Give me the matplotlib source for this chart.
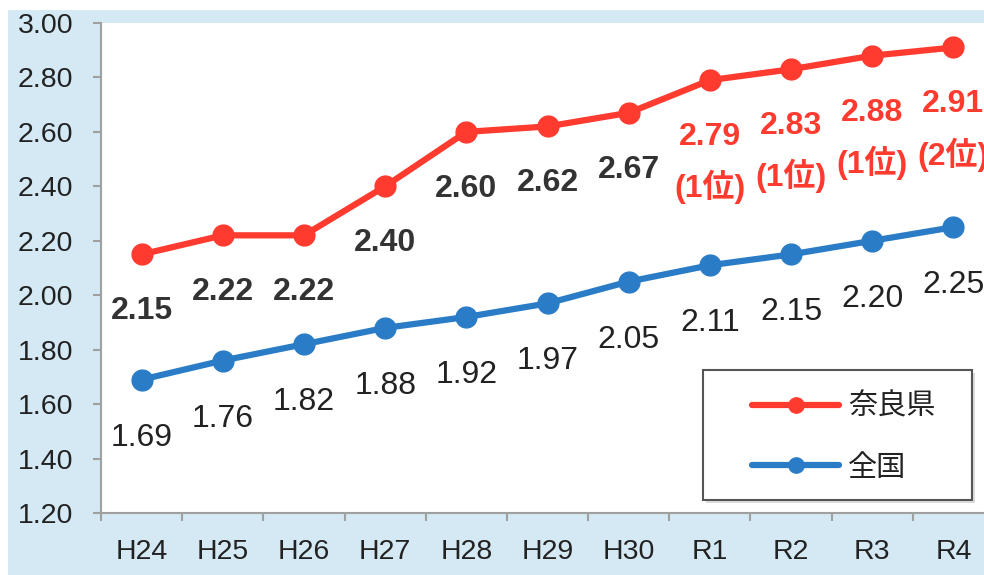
import matplotlib
matplotlib.use("Agg")
import matplotlib.pyplot as plt
from matplotlib.patches import Rectangle

categories = ["H24", "H25", "H26", "H27", "H28", "H29", "H30", "R1", "R2", "R3", "R4"]
nara = [2.15, 2.22, 2.22, 2.40, 2.60, 2.62, 2.67, 2.79, 2.83, 2.88, 2.91]
national = [1.69, 1.76, 1.82, 1.88, 1.92, 1.97, 2.05, 2.11, 2.15, 2.20, 2.25]
nara_rank = [None, None, None, None, None, None, None, 1, 1, 1, 2]
series_names = ["奈良県", "全国"]
yticks = [1.20, 1.40, 1.60, 1.80, 2.00, 2.20, 2.40, 2.60, 2.80, 3.00]

FONT = ["Liberation Sans", "Noto Sans CJK JP", "DejaVu Sans"]
plt.rcParams["font.family"] = FONT

RED = "#FF3B30"
BLUE = "#2A7CC7"
BG = "#D4E9F4"
AXIS = "#A0A0A0"

W, H = 984, 575
fig = plt.figure(figsize=(W / 100, H / 100), dpi=100)
fig.patch.set_facecolor("white")
fig.add_artist(Rectangle((8 / W, 0), 1, (H - 10) / H, transform=fig.transFigure,
                         facecolor=BG, edgecolor="none", zorder=0))

left, right = 101, 994
top, bottom = 23, 513
ax = fig.add_axes([left / W, (H - bottom) / H, (right - left) / W, (bottom - top) / H])
ax.set_facecolor("white")

x = list(range(len(categories)))
ax.plot(x, nara, color=RED, lw=4.5, marker="o", ms=15, label=series_names[0],
        solid_capstyle="round", zorder=3)
ax.plot(x, national, color=BLUE, lw=4.5, marker="o", ms=15, label=series_names[1],
        solid_capstyle="round", zorder=3)

ax.set_xlim(-0.5, len(categories) - 0.5)
ax.set_ylim(1.2, 3.0)
ax.set_yticks(yticks)
ax.set_yticklabels([f"{v:.2f}" for v in yticks], fontsize=20.5, color="#222222")
ax.set_xticks(x)
ax.set_xticklabels(categories, fontsize=20.5, color="#222222")
ax.set_xticks([i - 0.5 for i in range(len(categories) + 1)], minor=True)
ax.tick_params(axis="x", which="major", length=0, pad=19)
ax.tick_params(axis="x", which="minor", length=6, width=1.5, color=AXIS, direction="out")
ax.tick_params(axis="y", which="major", length=6, width=1.5, color=AXIS, pad=14)

for s in ["top", "right"]:
    ax.spines[s].set_visible(False)
for s in ["left", "bottom"]:
    ax.spines[s].set_color(AXIS)
    ax.spines[s].set_linewidth(1.5)

# data labels
for i, (v, r) in enumerate(zip(nara, nara_rank)):
    col = "#333333" if r is None else RED
    ax.annotate(f"{v:.2f}", (i, v), xytext=(0, -57), textcoords="offset pixels",
                ha="center", va="center", fontsize=23, fontweight="bold",
                color=col, zorder=4)
    if r is not None:
        ax.annotate(f"({r}位)", (i, v), xytext=(0, -107), textcoords="offset pixels",
                    ha="center", va="center", fontsize=23, fontweight="bold",
                    color=RED, zorder=4)

for i, v in enumerate(national):
    ax.annotate(f"{v:.2f}", (i, v), xytext=(0, -58), textcoords="offset pixels",
                ha="center", va="center", fontsize=23, color="#222222", zorder=4)

# legend frame (drawn separately to match the padding of the reference)
def px_to_ax(px, py):
    return (px - left) / (right - left), (bottom - py) / (bottom - top)

fx0, fy1 = px_to_ax(703, 370)
fx1, fy0 = px_to_ax(972, 500)
ax.add_patch(Rectangle((fx0 + 0.003, fy0 - 0.006), fx1 - fx0, fy1 - fy0, transform=ax.transAxes,
                       facecolor="#DDDDDD", edgecolor="none", zorder=4, clip_on=False))
ax.add_patch(Rectangle((fx0, fy0), fx1 - fx0, fy1 - fy0, transform=ax.transAxes,
                       facecolor="white", edgecolor="#555555", lw=1.5, zorder=5, clip_on=False))

lx, ly = px_to_ax(752, 393)
leg = ax.legend(loc="upper left", bbox_to_anchor=(lx, ly),
                borderaxespad=0, frameon=False, borderpad=0,
                fontsize=21, handlelength=3.0, handletextpad=0.3, labelspacing=1.12)
leg.set_zorder(6)
for h in leg.legend_handles:
    h.set_markersize(11)
for t in leg.get_texts():
    t.set_color("#222222")

fig.savefig("out.png", dpi=100, facecolor=fig.get_facecolor())
